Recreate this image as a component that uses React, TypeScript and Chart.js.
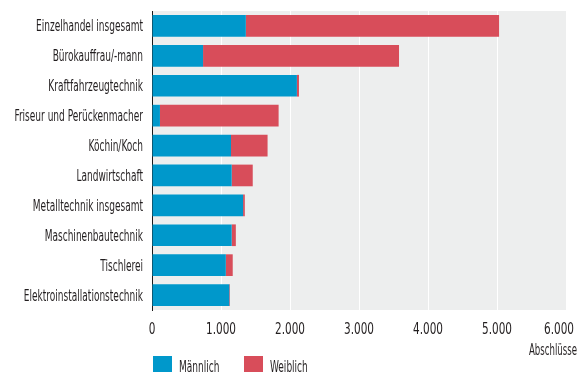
import React, { useEffect, useRef } from "react";
import { Chart, registerables } from "chart.js";

Chart.register(...registerables);

const categories = [
  "Einzelhandel insgesamt",
  "Bürokauffrau/-mann",
  "Kraftfahrzeugtechnik",
  "Friseur und Perückenmacher",
  "Köchin/Koch",
  "Landwirtschaft",
  "Metalltechnik insgesamt",
  "Maschinenbautechnik",
  "Tischlerei",
  "Elektroinstallationstechnik",
];
const maleValues = [1360, 740, 2100, 115, 1145, 1155, 1320, 1155, 1070, 1120];
const femaleValues = [3670, 2840, 30, 1720, 530, 305, 25, 60, 100, 10];
const xTicks = [0, 1000, 2000, 3000, 4000, 5000, 6000];
const seriesNames = ["Männlich", "Weiblich"];
const axisTitle = "Abschlüsse";

const BLUE = "#0098cb";
const RED = "#d84d5a";
const TEXT = "#231f20";
const FONT = '"Liberation Sans Narrow", "DejaVu Sans Condensed", sans-serif';

const fmt = (v: number) => String(v).replace(/\B(?=(\d{3})+(?!\d))/g, ".");

function drawScaled(ctx: CanvasRenderingContext2D, text: string, x: number, y: number, align: CanvasTextAlign, sx: number) {
  ctx.save();
  ctx.translate(x, y);
  ctx.scale(sx, 1);
  ctx.textAlign = align;
  ctx.textBaseline = "alphabetic";
  ctx.fillText(text, 0, 0);
  ctx.restore();
}

const decorPlugin = {
  id: "decor",
  beforeDraw(chart: any) {
    const { ctx, chartArea } = chart;
    ctx.save();
    ctx.fillStyle = "#edeeee";
    ctx.fillRect(chartArea.left, chartArea.top, chartArea.right - chartArea.left, chartArea.bottom - chartArea.top);
    ctx.restore();
  },
  afterDraw(chart: any) {
    const { ctx, chartArea } = chart;
    const yScale = chart.scales.y;
    const xScale = chart.scales.x;
    ctx.save();
    ctx.fillStyle = TEXT;
    // condensed factor derived from measured text width (target ~107px)
    ctx.font = `16px ${FONT}`;
    const sx = 107 / ctx.measureText(categories[0]).width;
    categories.forEach((c, i) => {
      const y = yScale.getPixelForValue(i);
      drawScaled(ctx, c, chartArea.left - 9, y + 5.5, "right", sx);
    });
    // x tick labels
    ctx.font = `15px ${FONT}`;
    const tx = 30 / ctx.measureText("1.000").width;
    xTicks.forEach((v) => {
      const t = fmt(v);
      const w = ctx.measureText(t).width * tx;
      let x = xScale.getPixelForValue(v);
      if (x + w / 2 > chart.width - 4) x = chart.width - 4 - w / 2;
      drawScaled(ctx, t, x, chartArea.bottom + 23.5, "center", tx);
    });
    // axis title
    ctx.font = `16px ${FONT}`;
    const ax = 48 / ctx.measureText(axisTitle).width;
    drawScaled(ctx, axisTitle, chart.width - 1, chartArea.bottom + 45, "right", ax);
    // legend
    const ds = chart.data.datasets;
    const legendX = [chartArea.left + 1, chartArea.left + 92];
    ds.forEach((d: any, i: number) => {
      ctx.fillStyle = d.backgroundColor;
      ctx.fillRect(legendX[i], chartArea.bottom + 46, 19, 16);
      ctx.fillStyle = TEXT;
      drawScaled(ctx, d.label, legendX[i] + 26, chartArea.bottom + 62, "left", sx);
    });
    ctx.restore();
  },
};

export default function App() {
  const ref = useRef<HTMLCanvasElement>(null);
  useEffect(() => {
    if (!ref.current) return;
    const chart = new Chart(ref.current, {
      type: "bar",
      data: {
        labels: categories,
        datasets: [
          { label: seriesNames[0], data: maleValues, backgroundColor: BLUE, borderWidth: 0, categoryPercentage: 1, barPercentage: 0.725 },
          { label: seriesNames[1], data: femaleValues, backgroundColor: RED, borderWidth: 0, categoryPercentage: 1, barPercentage: 0.725 },
        ],
      },
      options: {
        indexAxis: "y",
        animation: false,
        responsive: false,
        devicePixelRatio: 1,
        layout: { padding: { top: 11, right: 12, left: 0, bottom: 0 } },
        plugins: { legend: { display: false }, tooltip: { enabled: false } },
        scales: {
          x: {
            stacked: true,
            min: 0,
            max: 6000,
            ticks: { display: false, stepSize: 1000 },
            grid: { color: "#ffffff", lineWidth: 1, drawTicks: false },
            border: { display: false },
            afterFit: (s: any) => {
              s.height = 63;
              s.paddingLeft = 0;
              s.paddingRight = 0;
            },
          },
          y: {
            stacked: true,
            ticks: { display: false },
            grid: { display: false, drawTicks: false },
            border: { display: true, color: "#1a1a1a", width: 1 },
            afterFit: (s: any) => {
              s.width = 152;
            },
          },
        },
      },
      plugins: [decorPlugin],
    });
    return () => chart.destroy();
  }, []);
  return (
    <div style={{ position: "fixed", left: 0, top: 0, width: 578, height: 373, background: "#fff" }}>
      <canvas ref={ref} width={578} height={373} style={{ display: "block" }} />
    </div>
  );
}
